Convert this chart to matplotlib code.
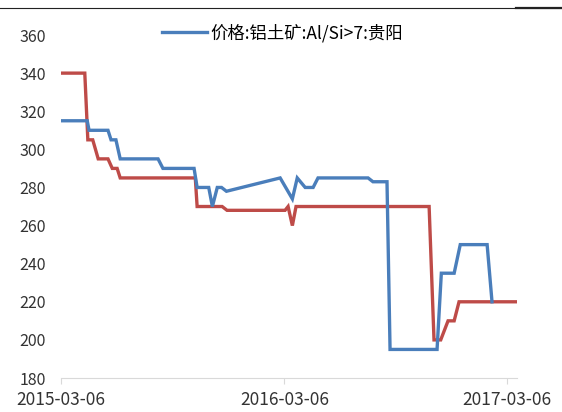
import matplotlib
matplotlib.use("Agg")
import matplotlib.pyplot as plt
import matplotlib.dates as mdates
from matplotlib.lines import Line2D
import pandas as pd

plt.rcParams['font.family'] = ['Noto Sans CJK SC', 'DejaVu Sans']

# 价格:铝土矿:Al/Si>7:贵阳 (blue)
blue_dates = ["2015-03-06", "2015-04-18", "2015-04-21", "2015-05-22", "2015-05-27",
              "2015-06-04", "2015-06-11", "2015-08-12", "2015-08-20", "2015-10-10",
              "2015-10-15", "2015-11-03", "2015-11-09", "2015-11-17", "2015-11-24",
              "2015-12-02", "2016-02-28", "2016-03-19", "2016-03-27", "2016-04-09",
              "2016-04-22", "2016-04-30", "2016-07-21", "2016-07-29", "2016-08-21",
              "2016-08-26", "2016-11-11", "2016-11-18", "2016-12-09", "2016-12-19",
              "2017-02-01", "2017-02-09"]
blue_vals = [315, 315, 310, 310, 305,
             305, 295, 295, 290, 290,
             280, 280, 270, 280, 280,
             278, 285, 274, 285, 280,
             280, 285, 285, 283, 283,
             195, 195, 235, 235, 250,
             250, 220]

# second series (red)
red_dates = ["2015-03-06", "2015-04-14", "2015-04-19", "2015-04-27", "2015-05-06",
             "2015-05-22", "2015-05-29", "2015-06-06", "2015-06-11", "2015-10-12",
             "2015-10-15", "2015-11-25", "2015-12-03", "2016-03-07", "2016-03-12",
             "2016-03-19", "2016-03-25", "2016-10-29", "2016-11-06", "2016-11-17",
             "2016-11-29", "2016-12-09", "2016-12-17", "2017-03-20"]
red_vals = [340, 340, 305, 305, 295,
            295, 290, 290, 285, 285,
            270, 270, 268, 268, 270,
            260, 270, 270, 200, 200,
            210, 210, 220, 220]

xticks = ["2015-03-06", "2016-03-06", "2017-03-06"]
yticks = [180, 200, 220, 240, 260, 280, 300, 320, 340, 360]

blue_c = "#4a7ebb"
red_c = "#be4b48"

fig = plt.figure(figsize=(5.62, 4.12), dpi=100)
ax = fig.add_axes([0.1085, 0.0825, 0.8115, 0.8325])

ax.plot(pd.to_datetime(red_dates), red_vals, color=red_c, lw=2.4,
        solid_joinstyle="miter")
ax.plot(pd.to_datetime(blue_dates), blue_vals, color=blue_c, lw=2.4,
        solid_joinstyle="miter")

ax.set_ylim(180, 360)
ax.set_xlim(pd.Timestamp("2015-03-06"), pd.Timestamp("2017-03-22"))
ax.set_yticks(yticks)
ax.set_xticks(pd.to_datetime(xticks))
ax.xaxis.set_major_formatter(mdates.DateFormatter("%Y-%m-%d"))

for s in ["top", "right", "left"]:
    ax.spines[s].set_visible(False)
ax.spines["bottom"].set_color("#d9d9d9")
ax.tick_params(axis="y", length=0, pad=11, labelsize=11.5, colors="#333333")
ax.tick_params(axis="x", length=4, color="#d9d9d9", pad=5, labelsize=12.5,
               colors="#333333")

handle = Line2D([], [], color=blue_c, lw=2.4)
ax.legend([handle], ["价格:铝土矿:Al/Si>7:贵阳"], loc="center",
          bbox_to_anchor=(0.485, 1.005), frameon=False, fontsize=12.5,
          handlelength=2.6, handletextpad=0.2)

# thin rule across the top
fig.add_artist(Line2D([0, 1], [0.981, 0.981], color="#222222", lw=0.8))
fig.add_artist(Line2D([0.918, 1], [0.981, 0.981], color="#222222", lw=1.6))

fig.savefig("out.png", dpi=100)
